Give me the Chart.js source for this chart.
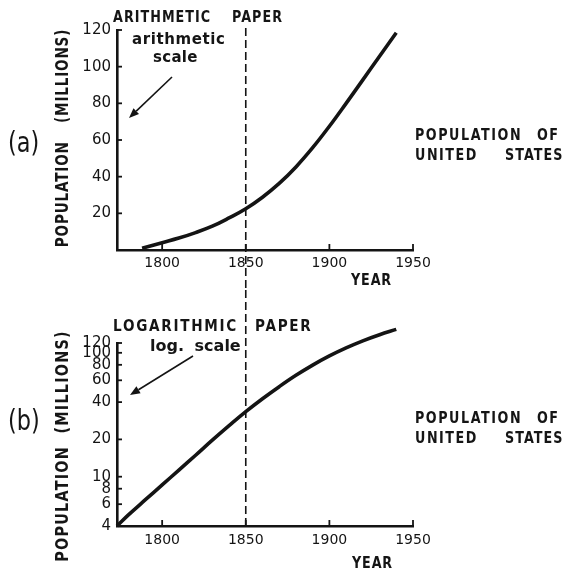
<!DOCTYPE html>
<html><head><meta charset="utf-8">
<script src="https://cdn.jsdelivr.net/npm/chart.js@4.4.1/dist/chart.umd.min.js"></script>
<style>
html,body{margin:0;padding:0;background:#fff;}
#wrap{position:relative;width:569px;height:571px;overflow:hidden;background:#fff}
canvas{position:absolute;left:0}
.t{position:absolute;font-family:'DejaVu Sans',sans-serif;font-weight:bold;color:#151515;white-space:nowrap;line-height:1;transform-origin:0 0}
.s{transform:scaleX(0.85)}
.rot{transform-origin:50% 50%}
</style></head><body>
<div id="wrap">
<canvas id="ca" width="569" height="290" style="top:0"></canvas>
<canvas id="cb" width="569" height="281" style="top:290px"></canvas>

<!-- (a) annotations -->
<div class="t s" style="left:113px;top:10px;font-size:15px;letter-spacing:1.2px">ARITHMETIC</div>
<div class="t s" style="left:232px;top:10px;font-size:15px;letter-spacing:1.2px">PAPER</div>
<div class="t" style="left:132px;top:32px;font-size:15px;letter-spacing:0.6px">arithmetic</div>
<div class="t" style="left:153px;top:50px;font-size:15px;letter-spacing:0.3px">scale</div>
<div class="t" style="left:8px;top:129px;font-size:28px;font-weight:normal;transform:scaleX(0.8)">(a)</div>
<div class="t rot" style="left:62px;top:138px;font-size:17px;letter-spacing:1px;word-spacing:16px;transform:translate(-50%,-50%) rotate(-90deg) scaleX(0.8)">POPULATION (MILLIONS)</div>
<div class="t s" style="left:415px;top:128px;font-size:15px;letter-spacing:1.8px">POPULATION</div>
<div class="t s" style="left:537px;top:128px;font-size:15px;letter-spacing:1.8px">OF</div>
<div class="t s" style="left:415px;top:148px;font-size:15px;letter-spacing:1.8px">UNITED</div>
<div class="t s" style="left:505px;top:148px;font-size:15px;letter-spacing:1.2px">STATES</div>
<div class="t s" style="left:351px;top:273px;font-size:15px;letter-spacing:1px">YEAR</div>

<!-- (b) annotations -->
<div class="t s" style="left:113px;top:318px;font-size:16px;letter-spacing:2px">LOGARITHMIC</div>
<div class="t s" style="left:255px;top:318px;font-size:16px;letter-spacing:2px">PAPER</div>
<div class="t" style="left:150px;top:338px;font-size:16px;word-spacing:5px">log. scale</div>
<div class="t" style="left:8px;top:407px;font-size:28px;font-weight:normal;transform:scaleX(0.8)">(b)</div>
<div class="t rot" style="left:62px;top:446px;font-size:18px;letter-spacing:1.5px;word-spacing:8px;transform:translate(-50%,-50%) rotate(-90deg) scaleX(0.8)">POPULATION (MILLIONS)</div>
<div class="t s" style="left:415px;top:411px;font-size:15px;letter-spacing:1.8px">POPULATION</div>
<div class="t s" style="left:537px;top:411px;font-size:15px;letter-spacing:1.8px">OF</div>
<div class="t s" style="left:415px;top:431px;font-size:15px;letter-spacing:1.8px">UNITED</div>
<div class="t s" style="left:505px;top:431px;font-size:15px;letter-spacing:1.2px">STATES</div>
<div class="t s" style="left:352px;top:556px;font-size:15px;letter-spacing:1px">YEAR</div>
</div>

<script>
// ---- data ----
const xTicks = [1800, 1850, 1900, 1950];
const yTicksArith = [0, 20, 40, 60, 80, 100, 120];
const yTicksLog = [4, 6, 8, 10, 20, 40, 60, 80, 100, 120];

const yearsArith = [1788, 1800, 1810, 1820, 1830, 1840, 1850, 1860, 1870, 1880, 1890, 1900, 1910, 1920, 1930, 1940];
const popArith   = [1, 4, 6.5, 9.5, 13, 17.5, 22.5, 28.8, 36.3, 45.3, 55.8, 67.5, 80, 92.8, 105.7, 118.5];

const yearsLog = [1773, 1780, 1790, 1800, 1810, 1820, 1830, 1840, 1850, 1860, 1870, 1880, 1890, 1900, 1910, 1920, 1930, 1940];
const popLog   = [4, 4.94, 6.52, 8.59, 11.3, 14.9, 19.7, 25.8, 33.5, 42.6, 53.3, 65.8, 79.6, 94.4, 109.6, 125, 140, 154.5];

const markYear = 1850;
const xMin = 1773, xMax = 1950;

const INK = '#141414';
const FONT = "'DejaVu Sans', sans-serif";

const decor = {
  id: 'decor',
  afterDraw(chart, args, opts) {
    const ctx = chart.ctx, a = chart.chartArea, x = chart.scales.x, y = chart.scales.y;
    ctx.save();
    ctx.strokeStyle = INK; ctx.fillStyle = INK;
    ctx.lineWidth = 1.8;
    x.ticks.forEach(t => {
      const px = x.getPixelForValue(t.value);
      ctx.beginPath(); ctx.moveTo(px, a.bottom); ctx.lineTo(px, a.bottom - 6); ctx.stroke();
    });
    y.ticks.forEach(t => {
      if (t.value <= y.min) return;
      const py = y.getPixelForValue(t.value);
      ctx.beginPath(); ctx.moveTo(a.left, py); ctx.lineTo(a.left + 5, py); ctx.stroke();
    });
    // dashed reference line
    const dx = x.getPixelForValue(markYear);
    ctx.setLineDash([8, 4]); ctx.lineWidth = 1.6;
    ctx.beginPath();
    ctx.moveTo(dx, opts.dashTop);
    ctx.lineTo(dx, opts.toCanvasBottom ? chart.height : a.bottom);
    ctx.stroke();
    ctx.setLineDash([]);
    // arrow
    const [x1, y1, x2, y2] = opts.arrow;
    const ang = Math.atan2(y2 - y1, x2 - x1), hl = 10, hw = 4;
    const bx = x2 - hl * Math.cos(ang), by = y2 - hl * Math.sin(ang);
    ctx.lineWidth = 1.6;
    ctx.beginPath(); ctx.moveTo(x1, y1); ctx.lineTo(bx, by); ctx.stroke();
    ctx.beginPath();
    ctx.moveTo(x2, y2);
    ctx.lineTo(bx + hw * Math.sin(ang), by - hw * Math.cos(ang));
    ctx.lineTo(bx - hw * Math.sin(ang), by + hw * Math.cos(ang));
    ctx.closePath(); ctx.fill();
    ctx.restore();
  }
};

function makeChart(id, cfg) {
  return new Chart(document.getElementById(id), {
    type: 'line',
    data: {
      datasets: [{
        data: cfg.years.map((yr, i) => ({ x: yr, y: cfg.values[i] })),
        borderColor: INK, borderWidth: 3.6, pointRadius: 0,
        tension: 0.4, fill: false, clip: false
      }]
    },
    options: {
      responsive: false, animation: false, events: [],
      layout: { padding: { left: 60, top: cfg.top, right: 156, bottom: 0 } },
      plugins: {
        legend: { display: false }, tooltip: { enabled: false },
        decor: { dashTop: cfg.dashTop, toCanvasBottom: cfg.toCanvasBottom, arrow: cfg.arrow }
      },
      scales: {
        x: {
          type: 'linear', min: xMin, max: xMax,
          afterBuildTicks: s => { s.ticks = xTicks.map(v => ({ value: v })); },
          afterFit: s => { s.height = cfg.xHeight; },
          grid: { display: false, drawTicks: false },
          border: { display: true, color: INK, width: 2.6 },
          ticks: { color: INK, font: { family: FONT, size: 14 }, padding: cfg.xPad, autoSkip: false, maxRotation: 0, callback: v => String(v) }
        },
        y: {
          type: cfg.yType, min: cfg.yMin, max: cfg.yMax,
          afterBuildTicks: s => { s.ticks = cfg.yTicks.map(v => ({ value: v })); },
          afterFit: s => { s.width = 57; },
          grid: { display: false, drawTicks: false },
          border: { display: true, color: INK, width: 2.6 },
          ticks: { color: INK, font: { family: FONT, size: 15 }, padding: 6, autoSkip: false,
                   callback: v => (v === 0 ? '' : String(v)) }
        }
      }
    },
    plugins: [decor]
  });
}

makeChart('ca', {
  years: yearsArith, values: popArith, yType: 'linear', yMin: 0, yMax: 120, yTicks: yTicksArith,
  top: 30, xHeight: 40, xPad: 5, dashTop: 28, toCanvasBottom: true, arrow: [172, 77, 129, 118]
});
makeChart('cb', {
  years: yearsLog, values: popLog, yType: 'logarithmic', yMin: 4, yMax: 120, yTicks: yTicksLog,
  top: 53, xHeight: 45, xPad: 6, dashTop: 0, toCanvasBottom: false, arrow: [193, 66, 130, 105]
});
</script>
</body></html>
